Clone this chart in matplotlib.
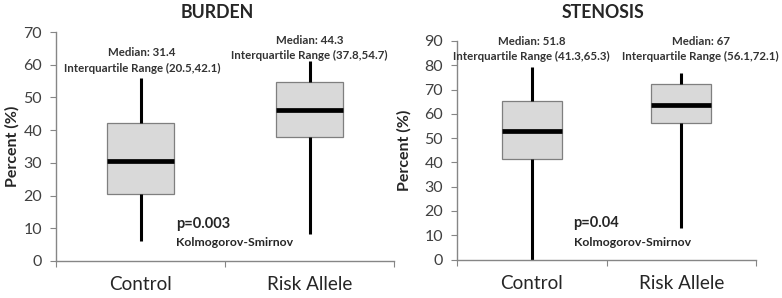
import matplotlib
matplotlib.use("Agg")
import matplotlib.pyplot as plt

plt.rcParams['font.family'] = ['Lato', 'DejaVu Sans']

categories = ['Control', 'Risk Allele']

burden_whislo = [6.0, 8.3]
burden_q1 = [20.5, 37.8]
burden_med = [30.5, 46.2]
burden_q3 = [42.1, 54.7]
burden_whishi = [56.0, 61.0]
burden_median_labels = ['31.4', '44.3']
burden_iqr_labels = ['(20.5,42.1)', '(37.8,54.7)']
burden_p = 'p=0.003'

stenosis_whislo = [0.0, 13.0]
stenosis_q1 = [41.3, 56.1]
stenosis_med = [52.8, 63.7]
stenosis_q3 = [65.3, 72.1]
stenosis_whishi = [79.3, 77.0]
stenosis_median_labels = ['51.8', '67']
stenosis_iqr_labels = ['(41.3,65.3)', '(56.1,72.1)']
stenosis_p = 'p=0.04'

W, H = 782, 298
fig = plt.figure(figsize=(W / 100, H / 100), dpi=100)

def px_axes(x0, x1, y_top, y_bot):
    return fig.add_axes([x0 / W, 1 - y_bot / H, (x1 - x0) / W, (y_bot - y_top) / H])

ax1 = px_axes(56, 394, 32, 261)
ax2 = px_axes(457, 756, 41, 259.5)

GRAY = '#868686'
TXT = '#262626'

def draw(ax, whislo, q1, med, q3, whishi, ymax, title, title_x,
         med_labels, iqr_labels, text_x, med_y, iqr_y, p, p_x, p_y, k_y, ylabel_x):
    stats = []
    for i in range(len(categories)):
        stats.append(dict(whislo=whislo[i], q1=q1[i], med=med[i], q3=q3[i],
                          whishi=whishi[i], fliers=[], label=categories[i]))
    ax.bxp(stats, positions=[1, 2], widths=0.4, showcaps=False, showfliers=False,
           patch_artist=True,
           boxprops=dict(facecolor='#d9d9d9', edgecolor='#7f7f7f', linewidth=0.9),
           whiskerprops=dict(color='black', linewidth=2.2, solid_capstyle='butt'),
           medianprops=dict(color='black', linewidth=3.4, solid_capstyle='butt'))
    ax.set_xlim(0.5, 2.5)
    ax.set_ylim(0, ymax)
    ax.set_yticks(range(0, ymax + 1, 10))
    ax.set_xticks([0.5, 1.5, 2.5])
    ax.set_xticklabels([])
    ax.set_xticks([1, 2], minor=True)
    ax.set_xticklabels(categories, minor=True, fontsize=13.6, color=TXT)
    ax.tick_params(axis='x', which='minor', length=0, pad=11)
    ax.tick_params(axis='x', which='major', length=4, color=GRAY, direction='out')
    ax.tick_params(axis='y', length=4, color=GRAY, direction='out', pad=6,
                   labelsize=11.5, labelcolor='#404040')
    for s in ['top', 'right']:
        ax.spines[s].set_visible(False)
    for s in ['left', 'bottom']:
        ax.spines[s].set_color(GRAY)
        ax.spines[s].set_linewidth(1.0)
    ax.set_ylabel('Percent (%)', fontsize=11.5, fontweight='bold', color=TXT)
    bb = ax.get_position()
    ax.yaxis.set_label_coords((ylabel_x / W - bb.x0) / bb.width, 0.5)
    fig.text(title_x / W, 1 - 13 / H, title, ha='center', va='center',
             fontsize=12.8, fontweight='bold', color=TXT)
    for i in range(len(categories)):
        ax.text(text_x[i], med_y[i], 'Median: ' + med_labels[i], ha='center', va='center',
                fontsize=8.3, fontweight='bold', color='#333333')
        ax.text(text_x[i], iqr_y[i], 'Interquartile Range ' + iqr_labels[i], ha='center',
                va='center', fontsize=8.3, fontweight='bold', color='#333333')
    ax.text(p_x, p_y, p, ha='left', va='center', fontsize=10.5, fontweight='bold', color=TXT)
    ax.text(p_x, k_y, 'Kolmogorov-Smirnov', ha='left', va='center', fontsize=8.8,
            fontweight='bold', color=TXT)

draw(ax1, burden_whislo, burden_q1, burden_med, burden_q3, burden_whishi, 70,
     'BURDEN', 217, burden_median_labels, burden_iqr_labels,
     [1.01, 2.0], [63.6, 67.3], [58.7, 62.7], burden_p, 1.21, 11.3, 5.8, 20)
draw(ax2, stenosis_whislo, stenosis_q1, stenosis_med, stenosis_q3, stenosis_whishi, 90,
     'STENOSIS', 603, stenosis_median_labels, stenosis_iqr_labels,
     [1.0, 2.13], [89.6, 89.6], [83.8, 83.8], stenosis_p, 1.28, 15.1, 7.2, 412)

fig.savefig('out.png', dpi=100)
